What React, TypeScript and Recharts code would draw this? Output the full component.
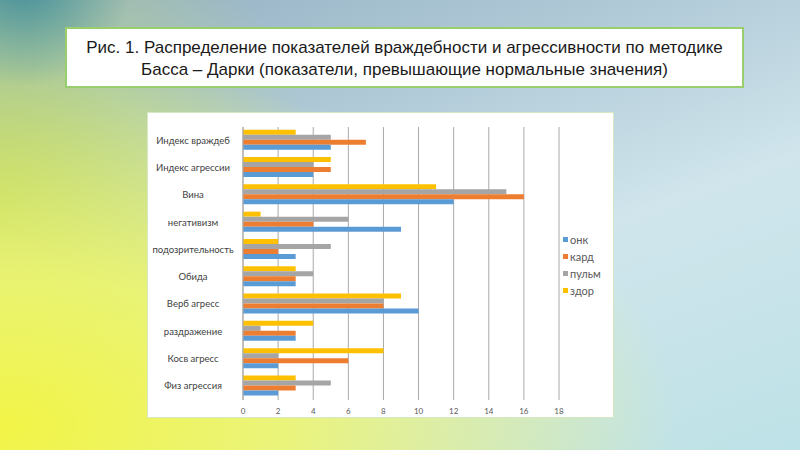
import { Bar, BarChart, CartesianGrid, Legend, XAxis, YAxis } from "recharts";

const categories = [
  "Индекс враждеб",
  "Индекс агрессии",
  "Вина",
  "негативизм",
  "подозрительность",
  "Обида",
  "Верб агресс",
  "раздражение",
  "Косв агресс",
  "Физ агрессия",
];

const onk = [5, 4, 12, 9, 3, 3, 10, 3, 2, 2];
const kard = [7, 5, 16, 4, 2, 3, 8, 3, 6, 3];
const pulm = [5, 4, 15, 6, 5, 4, 8, 1, 2, 5];
const zdor = [3, 5, 11, 1, 2, 3, 9, 4, 8, 3];

const xTicks = [0, 2, 4, 6, 8, 10, 12, 14, 16, 18];

// legend order (Excel lists first series first)
const series = [
  { key: "onk", name: "онк", color: "#5b9bd5" },
  { key: "kard", name: "кард", color: "#ed7d31" },
  { key: "pulm", name: "пульм", color: "#a5a5a5" },
  { key: "zdor", name: "здор", color: "#ffc000" },
];

const data = categories.map((name, i) => ({
  name,
  onk: onk[i],
  kard: kard[i],
  pulm: pulm[i],
  zdor: zdor[i],
}));

// bars drawn top-down within a group: здор, пульм, кард, онк
const drawOrder = [...series].reverse();

const CatTick = ({ y, payload }: any) => (
  <text x={45} y={y} dy={3} textAnchor="middle" fontSize={9.5} fill="#404040" fontFamily="Lato, sans-serif">
    {payload.value}
  </text>
);

const LegendBox = () => (
  <div style={{ width: 54, paddingLeft: 4, boxSizing: "border-box", fontFamily: "Lato, sans-serif" }}>
    {series.map((s) => (
      <div key={s.key} style={{ display: "flex", alignItems: "center", height: 17, fontSize: 11, color: "#595959" }}>
        <span style={{ width: 5, height: 5, background: s.color, marginRight: 2, display: "inline-block" }} />
        {s.name}
      </div>
    ))}
  </div>
);

const App = () => {
  return (
    <div
      style={{
        position: "fixed",
        left: 0,
        top: 0,
        width: 800,
        height: 450,
        overflow: "hidden",
        background:
          "radial-gradient(circle at 3% -5%, rgba(40,130,150,0.8) 0%, rgba(40,130,150,0.0) 12%)," +
          "radial-gradient(ellipse at 0% 95%, rgba(242,244,70,1) 0%, rgba(238,246,110,0.9) 25%, rgba(232,246,160,0) 60%)," +
          "radial-gradient(ellipse 40% 70% at 0% 45%, rgba(175,205,95,0.95) 0%, rgba(190,220,120,0.5) 50%, rgba(190,220,120,0) 100%)," +
          "linear-gradient(160deg, #92aec0 0%, #aec8d6 30%, #d0e5ec 60%, #bde2e7 100%)",
      }}
    >
      <div
        style={{
          position: "absolute",
          left: 65,
          top: 27,
          width: 679,
          height: 61,
          boxSizing: "border-box",
          background: "#fff",
          border: "2px solid #98cf6c",
          fontFamily: "'Liberation Sans', Arial, sans-serif",
          fontSize: 17,
          lineHeight: "22px",
          color: "#1a1a1a",
          textAlign: "center",
          paddingTop: 8,
          whiteSpace: "nowrap",
        }}
      >
        Рис. 1. Распределение показателей враждебности и агрессивности по методике
        <br />
        Басса – Дарки (показатели, превышающие нормальные значения)
      </div>
      <div
        style={{
          position: "absolute",
          left: 148,
          top: 113,
          width: 465,
          height: 304,
          background: "#fff",
          outline: "1px solid #d6e8c2",
        }}
      >
        <BarChart
          width={465}
          height={304}
          data={data}
          layout="vertical"
          margin={{ top: 14, right: 0, bottom: 2, left: 0 }}
          barCategoryGap="10%"
          barGap={0}
        >
          <CartesianGrid horizontal={false} stroke="#a9a9a9" />
          <XAxis
            type="number"
            domain={[0, 18]}
            ticks={xTicks}
            interval={0}
            axisLine={false}
            tickLine={false}
            height={15}
            tick={{ fontSize: 8, fill: "#595959", fontFamily: "Lato, sans-serif" }}
          />
          <YAxis
            type="category"
            dataKey="name"
            width={95}
            axisLine={{ stroke: "#a9a9a9" }}
            tickLine={false}
            interval={0}
            tick={<CatTick />}
          />
          <Legend layout="vertical" align="right" verticalAlign="middle" content={() => <LegendBox />} />
          {drawOrder.map((s) => (
            <Bar key={s.key} dataKey={s.key} name={s.name} fill={s.color} isAnimationActive={false} />
          ))}
        </BarChart>
      </div>
    </div>
  );
};

export default App;
